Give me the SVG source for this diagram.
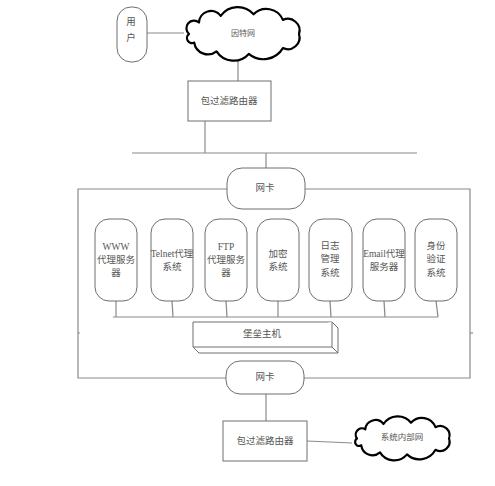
<svg xmlns="http://www.w3.org/2000/svg" width="495" height="486" viewBox="0 0 495 486">
<style>
.ln{stroke:#8a8a8a;stroke-width:1.2;fill:none}
.bx{stroke:#6e6e6e;stroke-width:1;fill:#fff}
.cl{stroke:#000;stroke-width:2.2;fill:#fff;stroke-linejoin:round}
text{font-family:"Liberation Serif","Noto Sans CJK SC",serif;font-size:9.5px;fill:#555;text-anchor:middle}
</style>
<rect width="495" height="486" fill="#fff"/>
<g id="connectors">
<line class="ln" x1="147" y1="33" x2="184" y2="33"/>
<line class="ln" x1="238" y1="60" x2="238" y2="81"/>
<line class="ln" x1="205" y1="121" x2="205" y2="153"/>
<line class="ln" x1="132" y1="153" x2="417" y2="153"/>
<line class="ln" x1="266" y1="153" x2="266" y2="168"/>
<polyline class="ln" points="227,189 78,189 78,378 226,378"/>
<polyline class="ln" points="305,189 470,189 470,378 304,378"/>
<line class="ln" x1="78" y1="333" x2="80" y2="333"/>
<line class="ln" x1="470" y1="333" x2="473" y2="333"/>
<line class="ln" x1="113" y1="317" x2="438" y2="317"/>
<line class="ln" x1="116" y1="301" x2="116" y2="317"/>
<line class="ln" x1="172" y1="301" x2="173" y2="317"/>
<line class="ln" x1="226" y1="301" x2="227" y2="317"/>
<line class="ln" x1="278" y1="301" x2="278" y2="317"/>
<line class="ln" x1="330" y1="301" x2="331" y2="317"/>
<line class="ln" x1="384" y1="301" x2="385" y2="317"/>
<line class="ln" x1="436" y1="301" x2="438" y2="317"/>
<line class="ln" x1="266" y1="394" x2="266" y2="421"/>
<line class="ln" x1="307" y1="441" x2="352" y2="443"/>
</g>
<g id="user">
<rect class="bx" x="117" y="7" width="30" height="55" rx="14"/>
<text x="131" y="25">用</text>
<text x="131" y="41">户</text>
</g>
<g id="internet">
<path class="cl" d="M189,34 A5,5 0 0 1 199,22.5 A12,12 0 0 1 220.7,15.9 A21,21 0 0 1 253.6,14.3 A17.9,17.9 0 0 1 282.9,19.9 A11.7,11.7 0 0 1 299,34 A11.7,11.7 0 0 1 282.9,48.1 A22.7,22.7 0 0 1 248.8,53.9 A20.4,20.4 0 0 1 216.5,51.3 A13.8,13.8 0 0 1 194.2,42.5 A5,5 0 0 1 189,34 Z"/>
<text x="243" y="36" style="font-size:8px">因特网</text>
</g>
<g id="router1">
<rect class="bx" x="188" y="81" width="83" height="40"/>
<text x="229" y="104">包过滤路由器</text>
</g>
<g id="nic1">
<rect class="bx" x="227" y="168" width="78" height="41" rx="15"/>
<text x="265" y="191">网卡</text>
</g>
<g id="www">
<rect class="bx" x="95" y="219" width="42" height="82" rx="14"/>
<text x="116" y="250">WWW</text>
<text x="116" y="263">代理服务</text>
<text x="116" y="276">器</text>
</g>
<g id="telnet">
<rect class="bx" x="151" y="219" width="42" height="82" rx="14"/>
<text x="172" y="257">Telnet代理</text>
<text x="172" y="270">系统</text>
</g>
<g id="ftp">
<rect class="bx" x="205" y="219" width="42" height="82" rx="14"/>
<text x="226" y="250">FTP</text>
<text x="226" y="263">代理服务</text>
<text x="226" y="276">器</text>
</g>
<g id="encrypt">
<rect class="bx" x="257" y="219" width="42" height="82" rx="14"/>
<text x="278" y="257">加密</text>
<text x="278" y="270">系统</text>
</g>
<g id="log">
<rect class="bx" x="309" y="219" width="43" height="82" rx="14"/>
<text x="330" y="249">日志</text>
<text x="330" y="262">管理</text>
<text x="330" y="276">系统</text>
</g>
<g id="email">
<rect class="bx" x="363" y="219" width="42" height="82" rx="14"/>
<text x="384" y="257">Email代理</text>
<text x="384" y="270">服务器</text>
</g>
<g id="auth">
<rect class="bx" x="415" y="219" width="42" height="82" rx="14"/>
<text x="436" y="249">身份</text>
<text x="436" y="262">验证</text>
<text x="436" y="276">系统</text>
</g>
<g id="bastion">
<path class="bx" d="M193,322 H332 L338,328 V353 H199 L193,347 Z"/>
<path class="bx" d="M193,347 H332 V322 M332,347 L338,353" fill="none"/>
<text x="262" y="337">堡垒主机</text>
</g>
<g id="nic2">
<rect class="bx" x="226" y="361" width="78" height="33" rx="14"/>
<text x="265" y="380">网卡</text>
</g>
<g id="router2">
<rect class="bx" x="223" y="421" width="84" height="40"/>
<text x="265" y="444">包过滤路由器</text>
</g>
<g id="intranet">
<path class="cl" d="M357,438.5 A6.3,6.3 0 0 1 365.3,429.3 A10.2,10.2 0 0 1 383.5,424 A17,17 0 0 1 411,422.7 A14.6,14.6 0 0 1 435.5,427.2 A9.4,9.4 0 0 1 449,438.5 A9.4,9.4 0 0 1 435.5,449.8 A18.3,18.3 0 0 1 407,454.4 A16.6,16.6 0 0 1 380,452.4 A11.3,11.3 0 0 1 361.3,445.3 A4,4 0 0 1 357,438.5 Z"/>
<text x="402" y="440" style="font-size:8.5px">系统内部网</text>
</g>
</svg>
